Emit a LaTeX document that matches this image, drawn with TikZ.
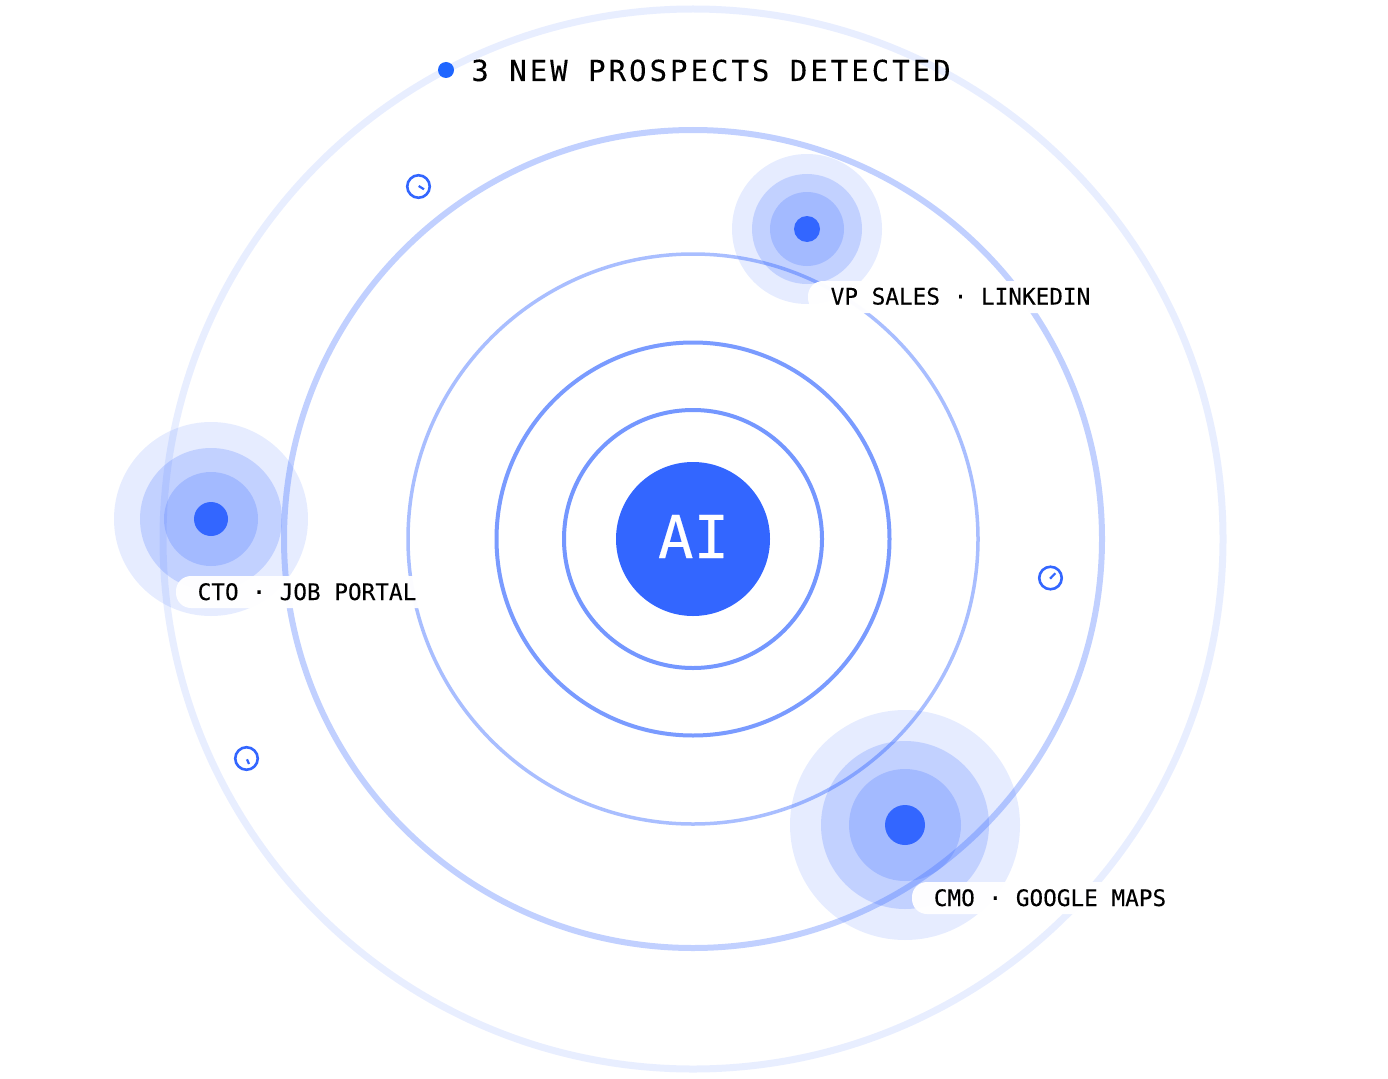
\documentclass[tikz,border=0pt]{standalone}
\usepackage{fontspec}
\setmainfont[FakeBold=0.2]{DejaVu Sans Mono}
\newfontfamily\titlefont[LetterSpace=10.4,FakeBold=0.1]{DejaVu Sans Mono}
\newfontfamily\corefont[FakeBold=0.3]{DejaVu Sans Mono}
\definecolor{brand}{HTML}{3366FF}
\definecolor{headdot}{HTML}{1F66FF}
\tikzset{
  ring/.style={draw=brand,fill=none},
  halo/.style={circle,fill=brand,inner sep=0pt,minimum size=#1},
  pill/.style={fill=white,fill opacity=.97,rounded corners=15pt,inner sep=0pt,minimum height=32pt},
  tag/.style={anchor=base,inner sep=0pt,text=black,font=\fontsize{22.7}{24}\selectfont},
  clockface/.style={circle,draw=brand,line width=2.6pt,inner sep=0pt,minimum size=22.5pt},
  clockhand/.style={draw=brand,line width=2.2pt}
}
\begin{document}
\begin{tikzpicture}[x=1pt,y=-1pt]
\useasboundingbox (0,0) rectangle (1388,1078);
\fill[white] (0,0) rectangle (1388,1078);
% rings
\draw[ring,line width=7pt,opacity=.11] (693,539) circle[radius=530];
\draw[ring,line width=6pt,opacity=.30] (693,539) circle[radius=409];
\draw[ring,line width=3.5pt,opacity=.42] (693,539) circle[radius=285];
\draw[ring,line width=4pt,opacity=.65] (693,539) circle[radius=196.5];
\draw[ring,line width=4pt,opacity=.68] (693,539) circle[radius=129];
% halos VP
\node[halo=150pt,opacity=.12] (vpa) at (807,229) {};
\node[halo=110pt,opacity=.195] (vpb) at (807,229) {};
\node[halo=74pt,opacity=.21] (vpc) at (807,229) {};
\node[halo=26pt] (vpd) at (807,229) {};
% halos CTO
\node[halo=194pt,opacity=.12] (ctoa) at (211,519) {};
\node[halo=142pt,opacity=.195] (ctob) at (211,519) {};
\node[halo=94pt,opacity=.21] (ctoc) at (211,519) {};
\node[halo=34pt] (ctod) at (211,519) {};
% halos CMO
\node[halo=230pt,opacity=.12] (cmoa) at (905,825) {};
\node[halo=168pt,opacity=.195] (cmob) at (905,825) {};
\node[halo=112pt,opacity=.21] (cmoc) at (905,825) {};
\node[halo=40pt] (cmod) at (905,825) {};
% centre
\node[circle,fill=brand,inner sep=0pt,minimum size=154pt] (core) at (693,539) {};
\node[anchor=base,inner sep=0pt,text=white,font=\corefont\fontsize{59}{60}\selectfont] (ailabel) at (693.5,558) {AI};
% heading
\node[circle,fill=headdot,inner sep=0pt,minimum size=16pt] (headmark) at (446,70) {};
\node[anchor=base,inner sep=0pt,text=black,font=\titlefont\fontsize{29}{30}\selectfont] (heading) at (711,81) {3 NEW PROSPECTS DETECTED};
% pills
\node[pill,minimum width=304pt] (vppill) at (960,297) {};
\node[pill,minimum width=268pt] (ctopill) at (310,592) {};
\node[pill,minimum width=278pt] (cmopill) at (1051,898) {};
\node[tag] (vptext) at (960.5,304.5) {VP SALES · LINKEDIN};
\node[tag] (ctotext) at (307,600) {CTO · JOB PORTAL};
\node[tag] (cmotext) at (1050,906) {CMO · GOOGLE MAPS};
% clocks
\node[clockface] (clocka) at (418.5,186.5) {};
\draw[clockhand] (418.7,186) -- (424,189.3);
\node[clockface] (clockb) at (246.5,758.5) {};
\draw[clockhand] (247,759.3) -- (249,764);
\node[clockface] (clockc) at (1050.5,578) {};
\draw[clockhand] (1050,578.7) -- (1055.3,573.3);
\end{tikzpicture}
\end{document}
